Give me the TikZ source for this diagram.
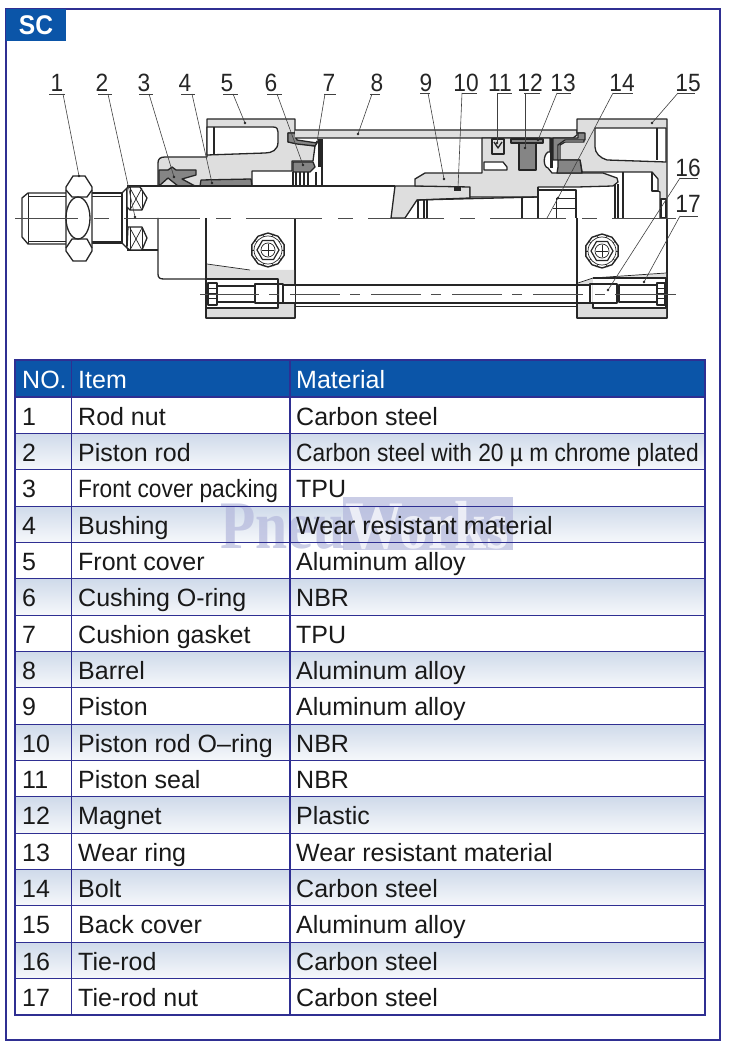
\documentclass[tikz,border=0pt]{standalone}
\usepackage{fontspec}
\setmainfont[FakeStretch=0.91]{Liberation Sans}
\newfontfamily\cellfont{Liberation Sans}
\newfontfamily\markfont[FakeStretch=0.85]{Liberation Serif}
\definecolor{framecol}{HTML}{2F2F92}
\definecolor{headblue}{HTML}{0B55A8}
\definecolor{rowtop}{HTML}{CFDAEA}
\definecolor{rowend}{HTML}{F6F8FB}
\definecolor{markcol}{HTML}{B4B8DC}
\definecolor{partgray}{HTML}{DEDEDE}
\definecolor{sealgray}{HTML}{858585}
\definecolor{inkcol}{HTML}{262626}
\tikzset{
  part/.style={draw=inkcol,line width=1.3pt,fill=partgray,line join=round},
  seal/.style={draw=inkcol,line width=1.3pt,fill=sealgray,line join=round},
  hole/.style={draw=inkcol,line width=1.3pt,fill=white,line join=round},
  edge/.style={draw=inkcol,line width=1.3pt,line join=round},
  fine/.style={draw=inkcol,line width=.7pt},
  axisline/.style={draw=black!70,line width=.8pt,dash pattern=on 76pt off 16pt on 15pt off 15pt},
  rodaxis/.style={draw=black!70,line width=.8pt,dash pattern=on 50pt off 10pt on 10pt off 11pt},
  leader/.style={draw=black!75,line width=.6pt},
  partno/.style={anchor=base,inner sep=0pt,font=\fontsize{25}{25}\selectfont,text=black!85},
  celltext/.style={anchor=base west,inner sep=0pt,font=\fontsize{25}{25}\cellfont\selectfont,text=black!90},
  headtext/.style={celltext,text=white},
}
\newcommand{\capscrew}[1]{
  \begin{scope}[shift={(#1)}]
    \draw[line width=1.4pt,draw=inkcol] plot[samples=11,domain=0:360] ({17*cos(\x+18)},{17*sin(\x+18)}) -- cycle;
    \draw[fine] (0,0) circle (14);
    \draw[line width=1.2pt,draw=inkcol] plot[samples=7,domain=0:360] ({11*cos(\x)},{11*sin(\x)}) -- cycle;
    \draw[fine] (0,0) circle (7);
    \draw[fine] (-6,0) -- (6,0);
    \draw[fine] (0,-6) -- (0,6);
    \foreach \a in {0,36,...,324}
      \draw[fine] ({14*cos(\a)},{14*sin(\a)}) -- ({17*cos(\a)},{17*sin(\a)});
  \end{scope}
}
\begin{document}
\begin{tikzpicture}[x=1pt,y=-1pt]
  \useasboundingbox (0,0) rectangle (730,1048);

  \draw[framecol,line width=1.3pt] (6,9) rectangle (720,1040);
  \node[fill=headblue,minimum width=60pt,minimum height=32pt,inner sep=0pt] (tab) at (36,25) {};
  \node[text=white,inner sep=0pt,font=\fontsize{27}{27}\bfseries\selectfont] (tabname) at (36,25) {SC};

  \draw[part] (158,186) -- (158,163) .. controls (158,159) and (160,157) .. (165,157) -- (207,157)
    -- (207,119) -- (295,119) -- (295,133) -- (288,133) -- (288,142) -- (315,146) -- (313,161)
    -- (292,161) -- (292,171) -- (252,171) -- (252,186) -- cycle;
  \draw[hole] (207,127) -- (273,127) .. controls (277,127) and (278,129) .. (278,132) -- (278,142)
    .. controls (278,150) and (272,153) .. (265,153) -- (207,155) -- cycle;
  \draw[edge] (214,127) -- (214,154);

  \draw[seal] (159,170) -- (168,170) -- (172,167) -- (176,170) -- (196,170) -- (196,175) -- (182,179)
    -- (195,186) -- (178,186) -- (168,178) -- (159,186) -- cycle;
  \draw[seal] (201,180) -- (251,179) -- (252,186) -- (200,186) -- cycle;
  \draw[seal] (288,133) -- (295,133) -- (297,140) -- (317,143) -- (315,146) -- (297,144) -- (288,142) -- cycle;
  \fill[inkcol] (318,139) rectangle (322,167);
  \draw[seal] (293,162) -- (313,162) -- (315,167) -- (310,172) -- (293,172) -- cycle;
  \foreach \xa in {293,296,300,304,308,316,322}
    \draw[edge] (\xa,172) -- (\xa,186);
  \draw[edge] (322,139) -- (322,186);

  \draw[part] (295,130) -- (577,130) -- (577,135) -- (573,138) -- (295,138);
  \draw[part] (395,186) -- (470,186) -- (470,198) -- (417,200) -- (405,218) -- (391,218) -- cycle;
  \draw[part] (415,186) -- (415,179) -- (425,173) -- (482,173) -- (482,138) -- (550,138) -- (550,152) -- (548,152)
    .. controls (543,155) and (543,167) .. (548,168) -- (552,173) -- (603,173) -- (617,178) -- (618,182) -- (613,186)
    -- (577,187) -- (538,187) -- (538,197) -- (470,197) -- (470,187) -- cycle;
  \draw[hole] (484,162) -- (503,162) -- (507,167) -- (507,170) -- (484,170) -- cycle;
  \fill[inkcol] (454,186) rectangle (461,191);

  \draw[edge] (417,200) -- (538,197);
  \foreach \xa in {418,424,427,522,538,615,618,623}
    \draw[edge] (\xa,{\xa<430 ? 200 : (\xa<530 ? 198 : (\xa<600 ? 187 : (\xa<620 ? 184 : 172)))}) -- (\xa,218);
  \draw[edge] (538,190) -- (576,190) -- (576,218);
  \draw[fine] (556,198) -- (576,198);
  \draw[fine] (553,208) -- (576,208);
  \draw[fine] (556,198) -- (556,218);

  \draw[part] (492,139) rectangle (504,154);
  \draw[edge] (494,142) -- (498,148) -- (502,142);
  \draw[seal] (519,143) rectangle (536,170);
  \draw[seal] (511,139) rectangle (543,143);

  \draw[part] (577,130) -- (577,119) -- (667,119) -- (667,218) -- (660,218) -- (660,192) -- (658,191) -- (658,179) -- (652,172)
    -- (582,172) -- (580,160) -- (560,160) -- (560,145) -- (565,142) -- (584,142) -- (584,133) -- (577,133) -- cycle;
  \draw[hole] (595,128) -- (666,128) -- (666,162) -- (607,160) .. controls (600,158) and (595,153) .. (595,147) -- cycle;
  \draw[edge] (657,128) -- (657,160);
  \draw[hole] (661,199) rectangle (666,218);
  \draw[edge] (652,172) -- (652,191) -- (658,191);
  \draw[seal] (578,133) -- (585,133) -- (585,140) -- (565,140) -- (558,145) -- (558,160) -- (553,160) -- (553,138) -- (578,138) -- cycle;
  \fill[inkcol] (550,138) rectangle (553,168);
  \draw[seal] (558,160) -- (580,160) -- (582,173) -- (557,173) -- (558,167) -- cycle;

  \draw[edge] (127,186) -- (395,186);
  \draw[edge] (158,218) -- (158,274) .. controls (158,278) and (160,279) .. (164,279) -- (207,279);
  \draw[edge] (127,250) -- (158,250);

  \draw[edge] (67,193) -- (28,193) -- (22,198) -- (22,237) -- (28,244) -- (67,244);
  \draw[fine] (28,193) -- (28,244);
  \draw[fine] (28,196) -- (67,196);
  \draw[fine] (28,241) -- (67,241);
  \draw[edge] (92,193) -- (122,193) -- (122,243) -- (92,243);
  \draw[fine] (92,196) -- (122,196);
  \draw[fine] (92,241) -- (122,241);

  \draw[edge,fill=white] (66,187) -- (73,176) -- (85,176) -- (92,187) -- (92,251) -- (86,261) -- (73,261) -- (66,251) -- cycle;
  \draw[edge] (66,190) -- (72,197) -- (87,197) -- (92,190);
  \draw[edge] (66,248) -- (72,239) -- (87,239) -- (92,248);
  \draw[edge] (78,218) ellipse (12 and 21);

  \draw[edge] (127,188) -- (127,248);
  \draw[edge] (122,193) -- (127,188);
  \draw[edge] (122,243) -- (127,248);
  \draw[edge,fill=white] (127,188) -- (130,187) -- (140,187) -- (147,198) -- (142,210) -- (130,210) -- (127,207) -- cycle;
  \draw[edge,fill=white] (128,227) -- (142,227) -- (147,238) -- (142,250) -- (130,250) -- (127,248) -- cycle;
  \draw[fine] (130,188) -- (142,210);
  \draw[fine] (142,188) -- (130,210);
  \draw[fine] (130,228) -- (142,250);
  \draw[fine] (142,228) -- (130,250);
  \draw[fine] (130,187) -- (130,210);
  \draw[fine] (142,190) -- (142,210);
  \draw[fine] (130,227) -- (130,250);
  \draw[fine] (142,227) -- (142,250);

  \draw[edge] (206,218) -- (206,318) -- (295,318) -- (295,218);
  \fill[partgray] (207,264) -- (250,270) -- (294,270) -- (294,317) -- (207,317) -- cycle;
  \draw[fine] (207,264) -- (250,270);
  \draw[hole] (207,279) -- (278,279) -- (278,308) -- (207,308);
  \fill[white] (280,285) rectangle (295,303);
  \draw[edge] (208,283) rectangle (217,305);
  \foreach \ya in {288,293,298}
    \draw[fine] (208,\ya) -- (217,\ya);
  \draw[edge,line width=1.7pt] (217,286) rectangle (255,302);
  \draw[edge] (255,284) rectangle (283,303);
  \capscrew{268,250}

  \draw[edge] (577,218) -- (577,318) -- (667,318) -- (667,218);
  \fill[partgray] (578,283) -- (593,278) -- (666,273) -- (666,317) -- (578,317) -- cycle;
  \draw[fine] (578,283) -- (593,278) -- (666,273);
  \draw[hole] (593,278) -- (666,278) -- (666,308) -- (593,308) -- (593,303);
  \fill[white] (577.6,285) rectangle (592,303);
  \draw[edge] (590,284) rectangle (617,303);
  \draw[edge,line width=1.7pt] (619,285) rectangle (657,302);
  \draw[edge] (657,283) rectangle (665,305);
  \foreach \ya in {288,293,298}
    \draw[fine] (657,\ya) -- (665,\ya);
  \capscrew{602,251}

  \draw[edge] (283,285) -- (590,285);
  \draw[edge] (283,303) -- (590,303);
  \draw[fine] (295,306) -- (577,306);

  \draw[axisline,dash phase=13pt] (15,218) -- (676,218);
  \draw[rodaxis] (200,294) -- (208,294);
  \draw[rodaxis] (209,294) -- (587,294);
  \draw[rodaxis] (595,294) -- (605,294);
  \draw[rodaxis,solid] (615,294) -- (676,294);

  \foreach \n/\tx/\ty/\ua/\ub/\uy/\lx/\ex/\ey in {
    1/57/92/49/65/94/63/79/176,
    2/102/92/98/112/94/108/135/217,
    3/144/92/139/153/94/149/174/177,
    4/185/92/181/195/94/192/212/183,
    5/227/92/223/238/94/233/245/123,
    6/271/92/267/282/94/277/303/165,
    7/329/92/324/336/94/325/317/142,
    8/377/92/370/380/94/372/358/134,
    9/426/92/420/430/93/428/444/179,
    10/466/92/462/477/93/462/458/188,
    11/500/92/497/512/93/497/497/143,
    12/530/92/524/540/93/525/525/148,
    13/563/92/557/571/93/557/538/140,
    14/622/92/613/633/93/613/558/198,
    15/688/92/678/695/93/678/652/123,
    16/688/177/680/698/178/680/608/290,
    17/688/213/680/698/216/680/644/282}
  {
    \node[partno] (no\n) at (\tx,\ty) {\n};
    \coordinate (under\n) at (\ua,\uy);
    \coordinate (overend\n) at (\ub,\uy);
    \coordinate (bend\n) at (\lx,\uy);
    \coordinate (tip\n) at (\ex,\ey);
    \draw[leader] (under\n) -- (overend\n);
    \draw[leader] (bend\n) -- (tip\n);
    \fill[inkcol] (tip\n) circle (1.3);
  }
  \draw[leader] (547,218) -- (558,198);

  \foreach \n in {2,4,...,16}
    \shade[top color=rowtop,bottom color=rowend] (15,{397+36.35*(\n-1)}) rectangle (705,{397+36.35*\n});
  \node[fill=headblue,minimum width=690pt,minimum height=37pt,inner sep=0pt] (headrow) at (360,378.5) {};

  \node[fill=markcol,fill opacity=.7,minimum width=170pt,minimum height=53pt,inner sep=0pt] (markbox) at (428,523.5) {};
  \node[anchor=base west,inner sep=0pt,text=markcol,text opacity=.7,font=\fontsize{68}{68}\markfont\bfseries\selectfont] (markpneu) at (220,548) {Pneu};
  \node[anchor=base west,inner sep=0pt,text=white,text opacity=.7,font=\fontsize{68}{68}\markfont\bfseries\selectfont] (markworks) at (345,548) {Works};

  \draw[framecol,line width=1.1pt] (15,360) rectangle (705,1015);
  \draw[framecol,line width=1.1pt] (71.5,360) -- (71.5,1015);
  \draw[framecol,line width=1.1pt] (290,360) -- (290,1015);
  \foreach \n in {0,1,...,16}
    \draw[framecol,line width=1.1pt] (15,{397+36.35*\n}) -- (705,{397+36.35*\n});

  \node[headtext] (headno) at (22,388) {NO.};
  \node[headtext] (headitem) at (78,388) {Item};
  \node[headtext] (headmat) at (296,388) {Material};

  \foreach \n/\partname/\stuff in {
    1/Rod nut/Carbon steel,
    2/Piston rod/{\rmfamily Carbon steel with 20 µ m chrome plated},
    3/{\rmfamily Front cover packing}/TPU,
    4/Bushing/Wear resistant material,
    5/Front cover/Aluminum alloy,
    6/Cushing O-ring/NBR,
    7/Cushion gasket/TPU,
    8/Barrel/Aluminum alloy,
    9/Piston/Aluminum alloy,
    10/Piston rod O–ring/NBR,
    11/Piston seal/NBR,
    12/Magnet/Plastic,
    13/Wear ring/Wear resistant material,
    14/Bolt/Carbon steel,
    15/Back cover/Aluminum alloy,
    16/Tie-rod/Carbon steel,
    17/Tie-rod nut/Carbon steel}
  {
    \pgfmathsetmacro\rowbase{425+36.35*(\n-1)}
    \node[celltext] (rowno\n) at (22,\rowbase) {\n};
    \node[celltext] (item\n) at (78,\rowbase) {\partname};
    \node[celltext] (mat\n) at (296,\rowbase) {\stuff};
  }
\end{tikzpicture}
\end{document}
